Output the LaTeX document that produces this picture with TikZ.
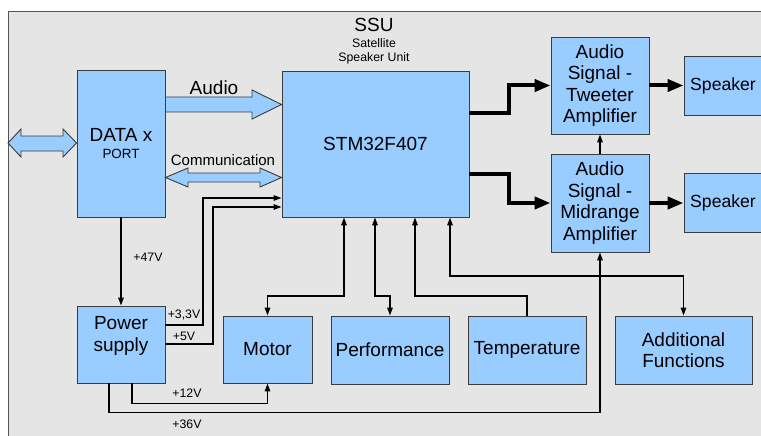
\documentclass[tikz,border=0pt]{standalone}
\usepackage{fontspec}
\setmainfont{Liberation Sans}
\usetikzlibrary{arrows.meta, calc}
\definecolor{ssu-blue}{RGB}{153,204,255}
\definecolor{ssu-line}{RGB}{60,60,60}
\definecolor{ssu-back}{RGB}{229,229,229}
\definecolor{ssu-frame}{RGB}{85,85,85}
\newcommand{\bigtxt}{\fontsize{19}{21.5}\selectfont}
\newcommand{\spktxt}{\fontsize{17.6}{20}\selectfont}
\newcommand{\smalltxt}{\fontsize{12.3}{14}\selectfont}

\begin{document}
\begin{tikzpicture}[
  x=1pt, y=-1pt,
  >={Triangle[length=8pt,width=5.5pt]},
  box/.style={draw=ssu-line, fill=ssu-blue, line width=0.9pt, inner sep=0pt,
              align=center, font=\bigtxt},
  fat/.style={draw=ssu-line, fill=ssu-blue, line width=0.9pt},
  wire/.style={line width=1.4pt},
  bus/.style={line width=4pt, -{Triangle[length=16pt,width=12pt]}},
  volt/.style={font=\smalltxt},
]
\clip (0,0) rectangle (761,436);
\draw[draw=ssu-frame, fill=ssu-back, line width=0.9pt] (8,11) rectangle (780,450);

\node[font=\bigtxt] (ssu) at (374,25) {SSU};
\node[font=\smalltxt, align=center] (ssuname) at (374,51) {Satellite\\Speaker Unit};

\node[box, minimum width=88, minimum height=147] (data) at (121,143.5)
  {DATA x\\[-4.5pt]{\fontsize{13.4}{15}\selectfont PORT}};
\node[box, minimum width=187, minimum height=146] (stm) at (375.5,144) {STM32F407};
\node[box, minimum width=98, minimum height=97] (tw) at (600,85.5)
  {Audio\\Signal -\\Tweeter\\Amplifier};
\node[box, minimum width=98, minimum height=98] (mid) at (600,203)
  {Audio\\Signal -\\Midrange\\Amplifier};
\node[box, font=\spktxt, minimum width=78, minimum height=59] (spk1) at (723,85.5) {Speaker};
\node[box, font=\spktxt, minimum width=78, minimum height=59] (spk2) at (723,203) {Speaker};
\node[box, minimum width=88, minimum height=77] (ps) at (121,344.5) {};
\node[font=\bigtxt, align=center] (pstext) at (121,336) {Power\\supply};
\node[box, minimum width=89, minimum height=67] (mot) at (267.5,349.5) {Motor};
\node[box, minimum width=118, minimum height=68] (perf) at (390,350) {Performance};
\node[box, minimum width=118, minimum height=68] (temp) at (527,350) {Temperature};
\node[box, minimum width=137, minimum height=68] (add) at (683.5,350) {Additional\\Functions};

% wide arrows
\coordinate (ext) at (8,143);
\draw[fat] (ext) -- (21,129) -- (21,136) -- (63,136) -- (63,129) -- (data.west |- 0,143)
  -- (63,157) -- (63,151) -- (21,151) -- (21,157) -- cycle;
\draw[fat] (data.east |- 0,97) -- (252,97) -- (252,90) -- (stm.west |- 0,104.5)
  -- (252,119) -- (252,112) -- (data.east |- 0,112) -- cycle;
\draw[fat] (data.east |- 0,177.5) -- (188,168) -- (188,173) -- (260,173) -- (260,168)
  -- (stm.west |- 0,177.5) -- (260,187) -- (260,182) -- (188,182) -- (188,187) -- cycle;
\node[font=\bigtxt] (laudio) at (214,88) {Audio};
\node[font=\fontsize{15}{17}\selectfont] (lcomm) at (223,160) {Communication};

% audio path
\draw[bus] (stm.east |- 0,113) -- (509,113) |- (tw.west);
\draw[bus] (stm.east |- 0,174) -- (509,174) |- (mid.west);
\foreach \a/\b in {tw/spk1, mid/spk2}
  \draw[bus] (\a) -- (\b);
\draw[wire,->] (mid.north) -- (tw.south);

% supply
\draw[wire,->] (data.south) -- (ps.north);
\draw[wire,->] (ps.east |- 0,325) -| (203,198) -- (stm.west |- 0,198);
\draw[wire,->] (ps.east |- 0,344) -| (213,207) -- (stm.west |- 0,207);
\draw[wire,->] ([xshift=11pt]ps.south) -- ++(0,20) -| (mot.south);
\draw[wire,->] ([xshift=-12pt]ps.south) -- ++(0,29) -| (mid.south);
\node[volt] (v47) at (148,257) {+47V};
\node[volt] (v33) at (184,315) {+3,3V};
\node[volt] (v5)  at (184,336) {+5V};
\node[volt] (v12) at (187,393) {+12V};
\node[volt] (v36) at (187,424) {+36V};

% peripherals
\draw[wire,<->] (stm.south -| 344,0) -- (344,296) -| (mot.north);
\draw[wire,<->] (stm.south -| 375,0) -- (375,296) -| (perf.north);
\draw[wire,->] (temp.north) |- (415,296) -- (stm.south -| 415,0);
\draw[wire,<->] (stm.south -| 450,0) -- (450,276) -| (add.north);
\end{tikzpicture}
\end{document}
